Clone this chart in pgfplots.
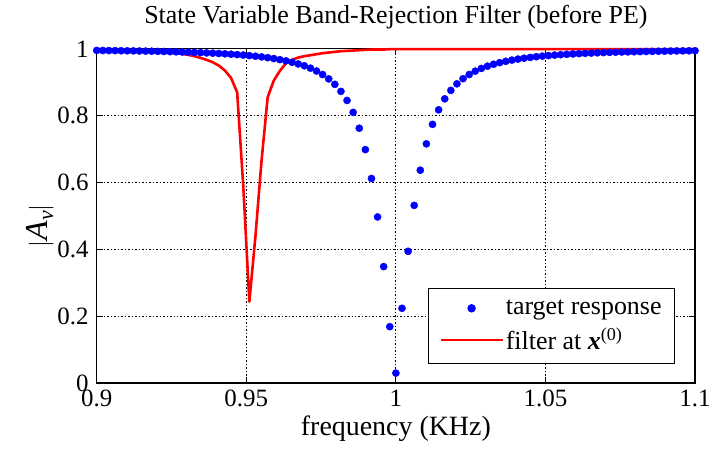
\documentclass[border=0pt]{standalone}
\usepackage{fontspec}
\setmainfont{Liberation Serif}
\usepackage{pgfplots}
\pgfplotsset{compat=1.18}
\definecolor{mblue}{RGB}{0,0,255}
\definecolor{mred}{RGB}{255,0,0}
\pgfplotsset{
  dotlegend/.style={legend image code/.code={\draw[draw=none] (0pt,0pt) -- (62pt,0pt);\draw[##1] plot coordinates {(31pt,0pt)};}},
  linelegend/.style={legend image code/.code={\draw[##1] (0pt,0pt) -- (62pt,0pt);}},
}
\begin{document}
\begin{tikzpicture}
\path[use as bounding box] (-97pt,-68pt) rectangle (616pt,384pt);
\begin{axis}[
  at={(0pt,0pt)}, anchor=south west,
  scale only axis, width=600pt, height=335pt,
  xmin=0.9, xmax=1.1, ymin=0, ymax=1,
  xtick={0.9,0.95,1,1.05,1.1},
  ytick={0,0.2,0.4,0.6,0.8,1},
  /pgf/number format/assume math mode=true,
  tick label style={font=\rmfamily\fontsize{25}{30}\selectfont, inner sep=1pt},
  xticklabel style={yshift=-6pt},
  yticklabel style={xshift=-7pt},
  tick align=inside, major tick length=6pt,
  tick style={black, line width=0.8pt},
  axis line style={black, line width=1.2pt},
  grid=major,
  grid style={black, line width=0.9pt, dash pattern=on 1.5pt off 2pt},
  clip=false,
  title={State Variable Band-Rejection Filter (before PE)},
  title style={font=\rmfamily\fontsize{26}{30}\selectfont, at={(axis description cs:0.5,1.078)}, anchor=center},
  xlabel={frequency (KHz)},
  xlabel style={font=\rmfamily\fontsize{28}{32}\selectfont, inner sep=1pt, at={(axis description cs:0.5,-0.137)}, anchor=center},
  ylabel={$|$\textit{A}\raisebox{-0.4ex}{\fontsize{22}{24}\selectfont\textit{v}}$|$},
  ylabel style={font=\rmfamily\fontsize{32}{36}\selectfont, at={(axis description cs:-0.095,0.47)}, anchor=center, rotate=0},
  legend style={at={(axis description cs:0.9667,0.0567)}, anchor=south east,
    draw=black, line width=1.2pt, font=\rmfamily\fontsize{26}{30}\selectfont,
    inner xsep=11pt, inner ysep=10pt, row sep=8pt},
  legend cell align=left,
]
\addplot[only marks, mark=*, mark size=3.6pt, color=mblue, dotlegend]
coordinates {
(0.9,0.9953)(0.90204,0.9951)(0.90408,0.9949)(0.90612,0.9947)(0.90816,0.9944)
(0.91020,0.9942)(0.91224,0.9939)(0.91429,0.9936)(0.91633,0.9932)(0.91837,0.9929)
(0.92041,0.9925)(0.92245,0.9921)(0.92449,0.9916)(0.92653,0.9911)(0.92857,0.9906)
(0.93061,0.9900)(0.93265,0.9894)(0.93469,0.9887)(0.93673,0.9879)(0.93878,0.9871)
(0.94082,0.9862)(0.94286,0.9852)(0.94490,0.9840)(0.94694,0.9828)(0.94898,0.9814)
(0.95102,0.9798)(0.95306,0.9780)(0.95510,0.9759)(0.95714,0.9736)(0.95918,0.9709)
(0.96122,0.9677)(0.96327,0.9641)(0.96531,0.9598)(0.96735,0.9548)(0.96939,0.9493)
(0.97143,0.9422)(0.97347,0.9336)(0.97551,0.9231)(0.97755,0.9101)(0.97959,0.8937)
(0.98163,0.8727)(0.98367,0.8456)(0.98571,0.8099)(0.98776,0.7624)(0.98980,0.6984)
(0.99184,0.6120)(0.99388,0.4968)(0.99592,0.3482)(0.99796,0.1684)(1.0,0.0294)
(1.00204,0.2234)(1.00408,0.3940)(1.00612,0.5315)(1.00816,0.6368)(1.01020,0.7156)
(1.01224,0.7740)(1.01429,0.8175)(1.01633,0.8504)(1.01837,0.8757)(1.02041,0.8953)
(1.02245,0.9107)(1.02449,0.9231)(1.02653,0.9332)(1.02857,0.9414)(1.03061,0.9482)
(1.03265,0.9539)(1.03469,0.9587)(1.03673,0.9628)(1.03878,0.9664)(1.04082,0.9694)
(1.04286,0.9720)(1.04490,0.9743)(1.04694,0.9765)(1.04898,0.9783)(1.05102,0.9799)
(1.05306,0.9813)(1.05510,0.9826)(1.05714,0.9837)(1.05918,0.9848)(1.06122,0.9857)
(1.06327,0.9866)(1.06531,0.9874)(1.06735,0.9881)(1.06939,0.9888)(1.07143,0.9894)
(1.07347,0.9899)(1.07551,0.9905)(1.07755,0.9909)(1.07959,0.9914)(1.08163,0.9917)
(1.08367,0.9921)(1.08571,0.9925)(1.08776,0.9928)(1.08980,0.9931)(1.09184,0.9934)
(1.09388,0.9937)(1.09592,0.9940)(1.09796,0.9942)(1.1,0.9944)
};
\addlegendentry{target response}
\addplot[color=mred, line width=2.6pt, no marks, line join=round, linelegend]
coordinates {
(0.9,0.998)(0.90204,0.998)(0.90408,0.998)(0.90612,0.998)(0.90816,0.997)
(0.91020,0.997)(0.91224,0.996)(0.91429,0.995)(0.91633,0.994)(0.91837,0.993)
(0.92041,0.992)(0.92245,0.991)(0.92449,0.989)(0.92653,0.987)(0.92857,0.985)
(0.93061,0.982)(0.93265,0.978)(0.93469,0.973)(0.93673,0.967)(0.93878,0.960)
(0.94082,0.950)(0.94286,0.935)(0.94490,0.913)(0.94694,0.870)(0.94898,0.590)
(0.95102,0.243)(0.95306,0.440)(0.95510,0.666)(0.95714,0.855)(0.95918,0.905)
(0.96122,0.934)(0.96327,0.957)(0.96531,0.967)(0.96735,0.974)(0.96939,0.978)
(0.97143,0.981)(0.97347,0.984)(0.97551,0.987)(0.97755,0.989)(0.97959,0.991)
(0.98163,0.993)(0.98367,0.994)(0.98571,0.995)(0.98776,0.996)(0.98980,0.997)
(0.99184,0.998)(0.99388,0.998)(0.99592,0.998)(0.99796,0.999)(1.0,0.999)
(1.02,0.999)(1.04,0.999)(1.06,0.999)(1.08,0.999)(1.1,0.999)
};
\addlegendentry{filter at \textbf{\textit{x}}\textsuperscript{(0)}}
\end{axis}
\end{tikzpicture}
\end{document}
